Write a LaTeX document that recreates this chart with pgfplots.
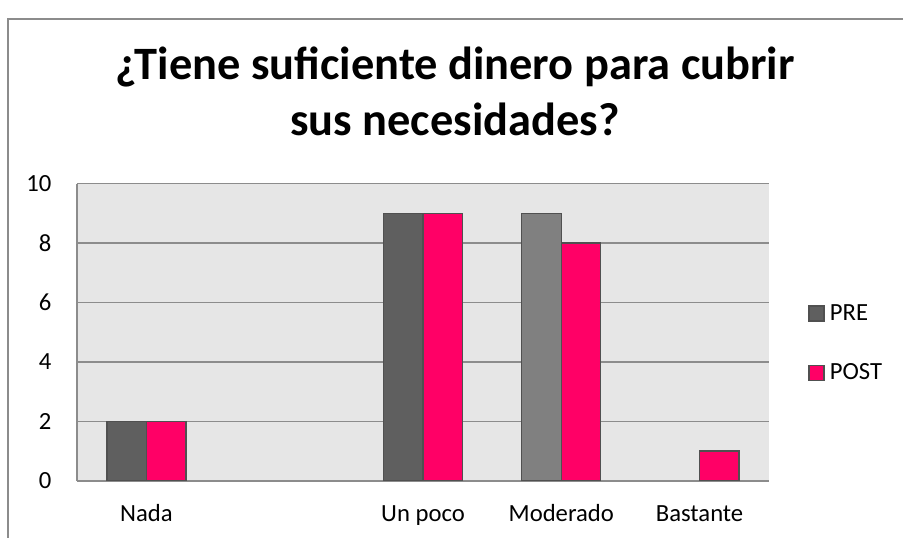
\documentclass[border=0pt]{standalone}
\usepackage{pgfplots}
\pgfplotsset{compat=1.18}
\usepackage{fontspec}
\setmainfont{Carlito}
\definecolor{preC}{HTML}{5F5F5F}
\definecolor{preL}{HTML}{808080}
\definecolor{postC}{HTML}{FF0066}
\definecolor{bgC}{HTML}{E6E6E6}
\definecolor{gridC}{HTML}{8C8C8C}
\definecolor{edgeC}{HTML}{505050}
\begin{document}
\begin{tikzpicture}[x=0.75pt,y=0.75pt]
\begin{axis}[
  at={(0,0)}, anchor=south west,
  scale only axis, width=518.55pt, height=222.75pt,
  ybar, bar width=0.2855,
  xmin=-0.5, xmax=4.5, ymin=0, ymax=10,
  ytick={0,2,4,6,8,10},
  xtick={0,1,2,3,4},
  xticklabels={Nada,,Un poco,Moderado,Bastante},
  major tick length=0pt,
  axis background/.style={fill=bgC},
  ymajorgrids, grid style={gridC, line width=1.1pt},
  axis x line*=bottom, axis y line*=left,
  axis line style={gridC, line width=1.3pt},
  separate axis lines,
  ticklabel style={font=\fontsize{18.5}{22}\selectfont},
  /pgf/number format/assume math mode=true,
  xticklabel style={yshift=-14pt, text height=13pt, text depth=4pt},
  yticklabel style={xshift=-16pt},
  legend style={at={(1.051,0.463)}, anchor=west, draw=none, fill=none,
    font=\fontsize{18.5}{22}\selectfont, row sep=27pt,
    /tikz/every odd column/.append style={column sep=2pt}},
  legend cell align=left,
  legend image code/.code={\draw[#1] (0pt,-5.6pt) rectangle (11.25pt,5.6pt);},
]
\addplot[fill=preC, draw=edgeC, line width=1pt, bar shift=-0.14275] coordinates {(0,2) (2,9)};
\addplot[fill=postC, draw=edgeC, line width=1pt, bar shift=0.14275] coordinates {(0,2) (2,9) (3,8) (4,1)};
\addplot[fill=preL, draw=edgeC, line width=1pt, bar shift=-0.14275, forget plot] coordinates {(3,9)};
\legend{PRE,POST}
\coordinate (pa) at (rel axis cs:0,0);
\end{axis}
\begin{scope}[shift={(pa)}]
\path[use as bounding box] (-77.3,-57.3) rectangle (825.7,480.7);
\draw[gridC, line width=1.1pt] (-69.3,-67.3) -- (-69.3,461.7) -- (842.7,461.7);
\node[anchor=base, font=\fontsize{34.8}{40}\selectfont\bfseries] at (377.7,400.7) {¿Tiene suficiente dinero para cubrir};
\node[anchor=base, font=\fontsize{34.8}{40}\selectfont\bfseries] at (377.7,344.7) {sus necesidades?};
\end{scope}
\end{tikzpicture}
\end{document}
